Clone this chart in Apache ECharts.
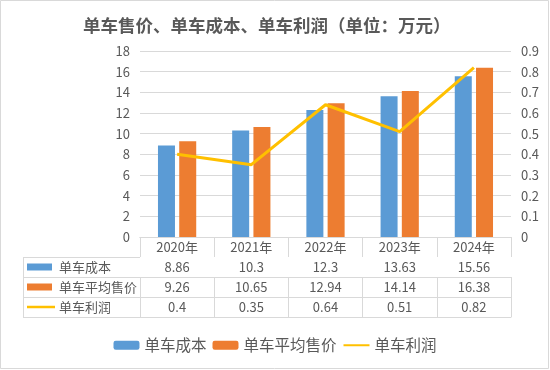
<!DOCTYPE html>
<html><head><meta charset="utf-8">
<script src="https://cdn.jsdelivr.net/npm/echarts@6/dist/echarts.min.js"></script>
<style>html,body{margin:0;padding:0;background:#fff}#c{width:550px;height:370px}</style>
</head><body><div id="c"></div>
<script>
const titleText = '单车售价、单车成本、单车利润（单位：万元）';
const years = ['2020年','2021年','2022年','2023年','2024年'];
const seriesNames = ['单车成本','单车平均售价','单车利润'];
const cost = [8.86, 10.3, 12.3, 13.63, 15.56];
const price = [9.26, 10.65, 12.94, 14.14, 16.38];
const profit = [0.4, 0.35, 0.64, 0.51, 0.82];
const colors = ['#5B9BD5', '#ED7D31', '#FFC000'];

const FONT = '"Noto Sans CJK SC", "Noto Sans", sans-serif';
const TXT = '#595959';
const LINE = '#d9d9d9';
const ROW = 20;
const TABLE_TOP = 237;
const TABLE_LEFT = 23;
const GRID_LEFT = 140;

function rowAxis(data, idx, showLabel) {
  return {
    type: 'category', gridIndex: 0, position: 'bottom', offset: ROW * idx,
    data: data,
    axisLine: { show: true, lineStyle: { color: LINE, width: 1 } },
    axisTick: { show: showLabel, interval: 0, length: ROW, lineStyle: { color: LINE } },
    axisLabel: { show: showLabel, interval: 0, margin: 10, verticalAlign: 'middle',
      color: TXT, fontSize: 13, fontFamily: FONT },
    splitLine: { show: false }
  };
}

const rowsData = [cost, price, profit].map(a => a.map(v => String(v)));

const graphics = [];
for (let i = 1; i <= 4; i++) {
  const y = TABLE_TOP + ROW * i + 0.5;
  graphics.push({ type: 'line', shape: { x1: TABLE_LEFT, y1: y, x2: GRID_LEFT, y2: y },
    style: { stroke: LINE, lineWidth: 1 }, silent: true });
}
graphics.push({ type: 'line', shape: { x1: TABLE_LEFT + 0.5, y1: TABLE_TOP + ROW, x2: TABLE_LEFT + 0.5, y2: TABLE_TOP + ROW * 4 + 0.5 },
  style: { stroke: LINE, lineWidth: 1 }, silent: true });
seriesNames.forEach((n, i) => {
  const cy = TABLE_TOP + ROW * (i + 1) + ROW / 2;
  if (i < 2) {
    graphics.push({ type: 'rect', shape: { x: 27, y: cy - 3.5, width: 25, height: 7 },
      style: { fill: colors[i] }, silent: true });
  } else {
    graphics.push({ type: 'line', shape: { x1: 27, y1: cy, x2: 55, y2: cy },
      style: { stroke: colors[i], lineWidth: 2.5 }, silent: true });
  }
  graphics.push({ type: 'text', x: 59, y: cy,
    style: { text: n, fill: TXT, fontSize: 13, fontFamily: FONT, verticalAlign: 'middle', align: 'left' }, silent: true });
});
graphics.push({ type: 'rect', shape: { x: 0.5, y: 0.5, width: 548, height: 368 },
  style: { fill: 'none', stroke: LINE, lineWidth: 1 }, silent: true });

const chart = echarts.init(document.getElementById('c'), null, { renderer: 'canvas' });
chart.setOption({
  animation: false,
  backgroundColor: '#fff',
  title: { text: titleText, left: 78, top: 12,
    textStyle: { color: TXT, fontSize: 17.5, fontWeight: 'bold', fontFamily: FONT } },
  legend: {
    data: [
      { name: seriesNames[0] },
      { name: seriesNames[1] },
      { name: seriesNames[2], itemStyle: { opacity: 0 } }
    ],
    bottom: 12, left: 'center', itemWidth: 26, itemHeight: 9, itemGap: 6,
    textStyle: { color: TXT, fontSize: 15.5, fontFamily: FONT }
  },
  grid: { left: GRID_LEFT, right: 39, top: 51, bottom: 370 - TABLE_TOP, containLabel: false },
  xAxis: [
    rowAxis(years, 0, true),
    rowAxis(rowsData[0], 1, true),
    rowAxis(rowsData[1], 2, true),
    rowAxis(rowsData[2], 3, true),
    rowAxis(years.map(() => ''), 4, false)
  ],
  yAxis: [
    { type: 'value', min: 0, max: 18, interval: 2,
      axisLine: { show: false }, axisTick: { show: false },
      axisLabel: { color: TXT, fontSize: 13, fontFamily: FONT, margin: 10 },
      splitLine: { lineStyle: { color: LINE, width: 1 } } },
    { type: 'value', min: 0, max: 0.9, interval: 0.1,
      axisLine: { show: false }, axisTick: { show: false },
      axisLabel: { color: TXT, fontSize: 13, fontFamily: FONT, margin: 10 },
      splitLine: { show: false } }
  ],
  series: [
    { name: seriesNames[0], type: 'bar', xAxisIndex: 0, yAxisIndex: 0, data: cost,
      barWidth: 17, barGap: '25%', itemStyle: { color: colors[0] } },
    { name: seriesNames[1], type: 'bar', xAxisIndex: 0, yAxisIndex: 0, data: price,
      barWidth: 17, barGap: '25%', itemStyle: { color: colors[1] } },
    { name: seriesNames[2], type: 'line', xAxisIndex: 0, yAxisIndex: 1, data: profit,
      symbol: 'none', lineStyle: { color: colors[2], width: 3 }, itemStyle: { color: colors[2] } }
  ],
  graphic: graphics
});
</script></body></html>
